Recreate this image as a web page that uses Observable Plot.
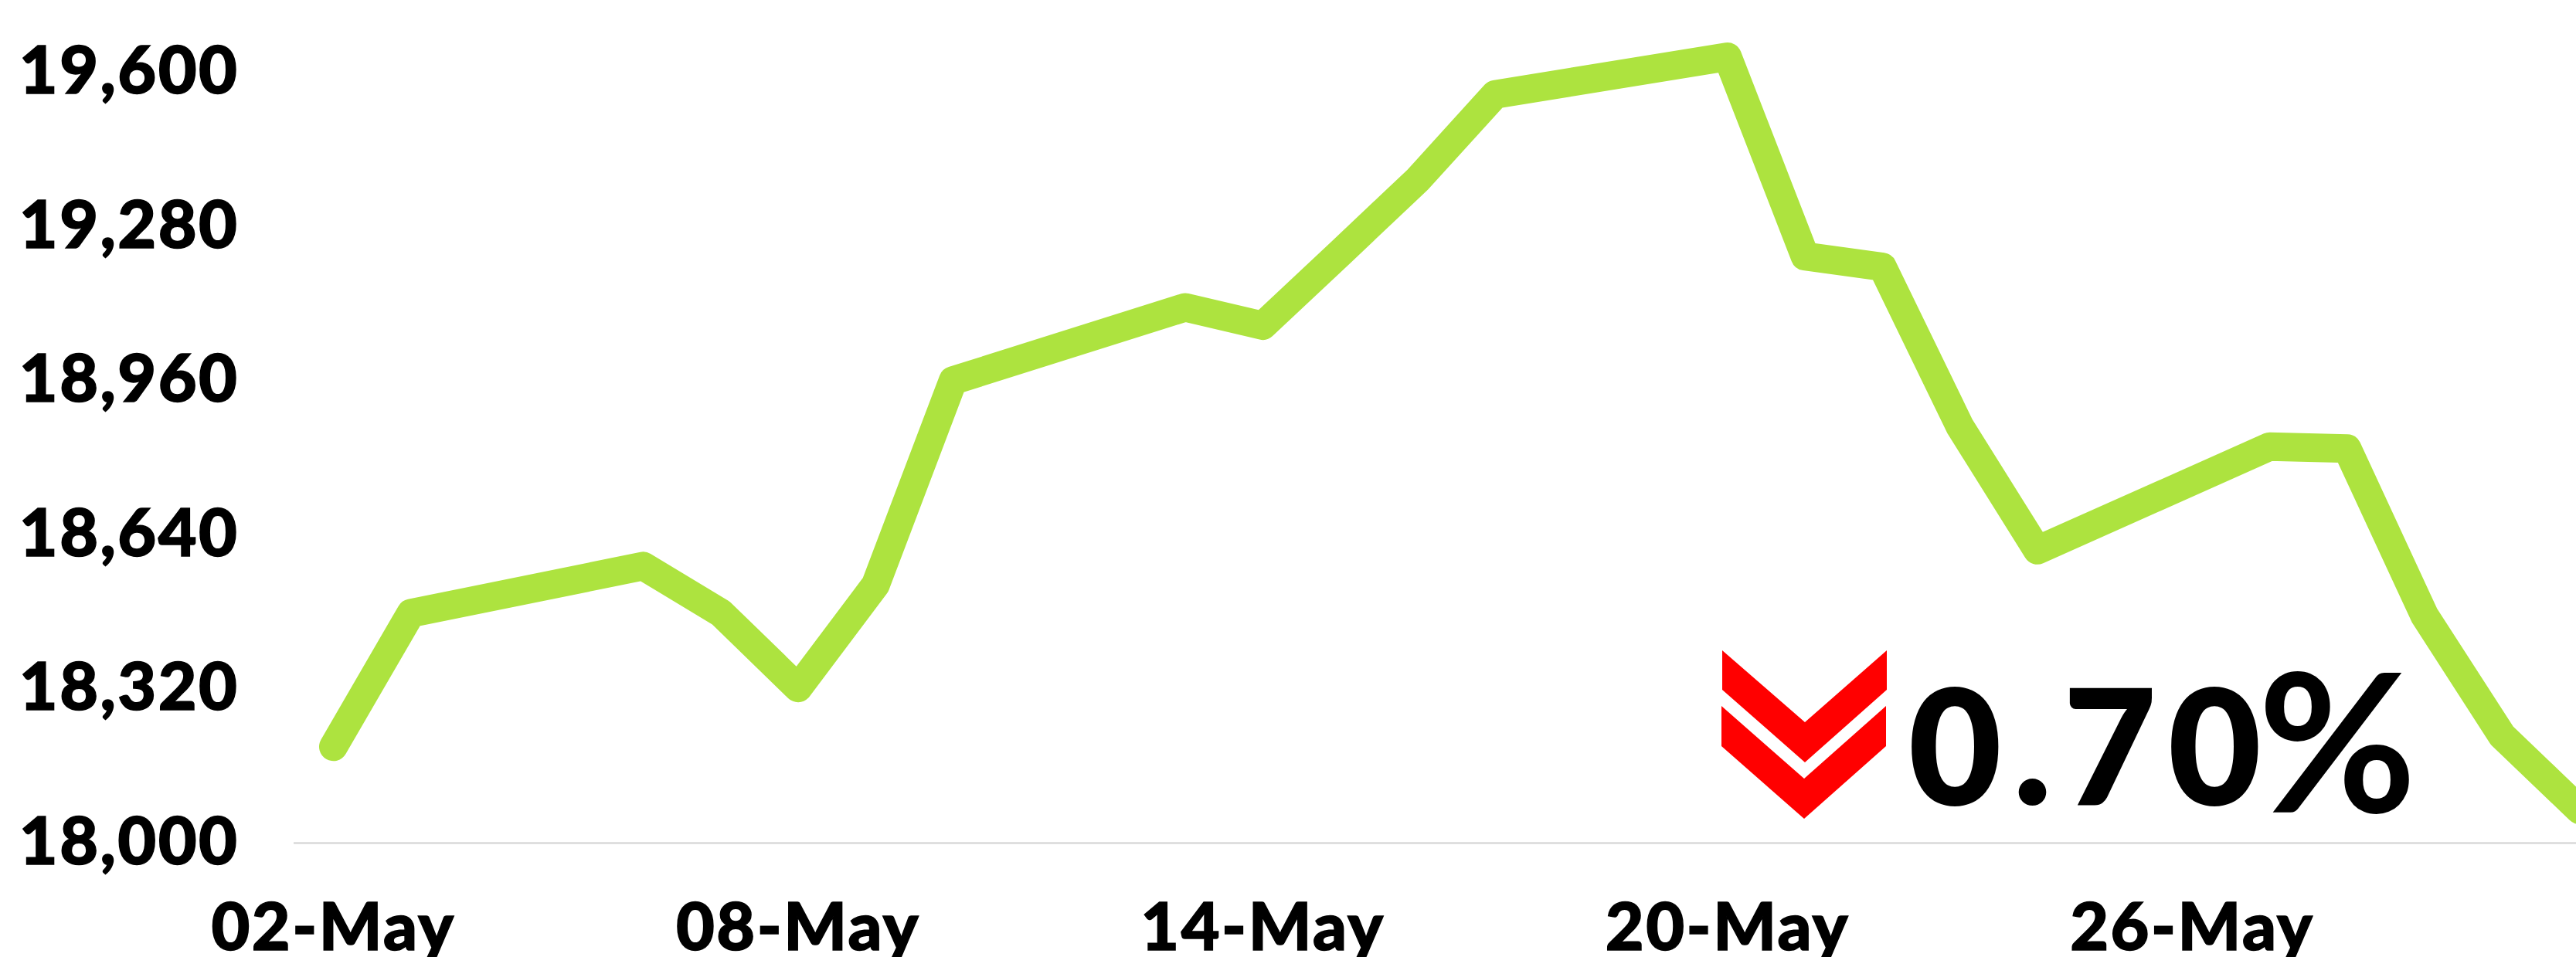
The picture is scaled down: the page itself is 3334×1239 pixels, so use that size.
<!DOCTYPE html>
<html><head><meta charset="utf-8">
<script src="https://cdn.jsdelivr.net/npm/d3@7"></script>
<script src="https://cdn.jsdelivr.net/npm/@observablehq/plot@0.6"></script>
<style>html,body{margin:0;padding:0;background:#fff;overflow:hidden}svg{display:block}
.tick-label text{letter-spacing:2.5px;stroke:#000;stroke-width:1.5px}
.big-value text{letter-spacing:16px;stroke:#000;stroke-width:2px}
</style>
</head><body><div id="chart"></div>
<script>
const days = ["2024-05-02","2024-05-03","2024-05-06","2024-05-07","2024-05-08","2024-05-09","2024-05-10","2024-05-13","2024-05-14","2024-05-15","2024-05-16","2024-05-17","2024-05-20","2024-05-21","2024-05-22","2024-05-23","2024-05-24","2024-05-27","2024-05-28","2024-05-29","2024-05-30","2024-05-31"];
const closes = [18200,18477,18575,18478,18322,18536,18960,19112,19074,19225,19377,19554,19632,19218,19196,18865,18608,18823,18819,18472,18223,18069];
const yTicks = [18000,18320,18640,18960,19280,19600];
const xTicks = ["2024-05-02","2024-05-08","2024-05-14","2024-05-20","2024-05-26"];
const changeLabel = "0.70";
const percentSign = "%";
const rows = days.map((d,i)=>({date:new Date(d+"T00:00:00Z"),close:closes[i]}));
const font = "'Lato','Noto Sans',sans-serif";
const chevron = () => {
  const ns="http://www.w3.org/2000/svg";
  const g=document.createElementNS(ns,"g");
  for(const pts of ["2229,842 2336,935 2442,842 2442,893 2336,987 2229,893","2228,914 2335,1008 2441,914 2441,966 2335,1060 2228,966"]){
    const p=document.createElementNS(ns,"polygon");p.setAttribute("points",pts);p.setAttribute("fill","#ff0000");g.appendChild(p);
  }
  return g;
};
const plot = Plot.plot({
  width:3334,height:1239,marginTop:0,marginRight:0,marginBottom:0,marginLeft:0,
  style:{background:"#fff",fontFamily:font,overflow:"hidden"},
  x:{type:"utc",domain:[new Date("2024-05-02T00:00:00Z"),new Date("2024-05-31T00:00:00Z")],range:[431,3338]},
  y:{domain:[18000,19600],range:[1091,93]},
  marks:[
    Plot.ruleY([18000],{x1:new Date("2024-05-01T11:47:00Z"),x2:new Date("2024-05-31T00:00:00Z"),stroke:"#d9d9d9",strokeWidth:2.5}),
    Plot.line(rows,{x:"date",y:"close",stroke:"#ade33f",strokeWidth:37,strokeLinejoin:"round",strokeLinecap:"round"}),
    Plot.axisY({ticks:yTicks,tickFormat:d3.format(","),tickSize:0,anchor:"left",label:null,fontSize:86,fontWeight:900,fill:"#000",textAnchor:"end",dx:318,className:"tick-label"}),
    Plot.axisX({ticks:xTicks.map(d=>new Date(d+"T00:00:00Z")),tickFormat:d3.utcFormat("%d-%b"),tickSize:0,anchor:"bottom",label:null,fontSize:86,fontWeight:900,fill:"#000",dy:-80,className:"tick-label"}),
    Plot.text([changeLabel],{text:d=>d,frameAnchor:"top-left",dx:2470,dy:975,fontSize:206,fontWeight:900,fill:"#000",textAnchor:"start",lineAnchor:"middle",className:"big-value"}),
    Plot.text([percentSign],{text:d=>d,frameAnchor:"top-left",dx:2922,dy:971,fontSize:250,fontWeight:700,fill:"#000",textAnchor:"start",lineAnchor:"middle"}),
    chevron
  ]
});
document.getElementById("chart").appendChild(plot);
</script></body></html>
